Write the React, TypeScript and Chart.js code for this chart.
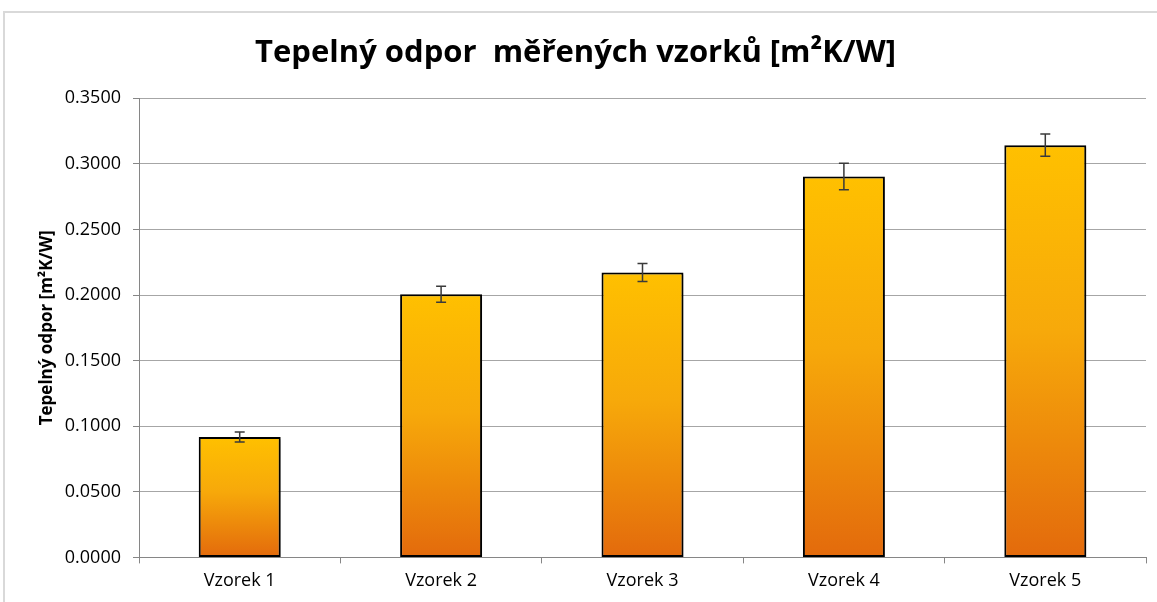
import React, { useEffect, useRef } from "react";
import { Chart, registerables } from "chart.js";

Chart.register(...registerables);

const categories = ["Vzorek 1", "Vzorek 2", "Vzorek 3", "Vzorek 4", "Vzorek 5"];
const values = [0.0917, 0.2005, 0.2172, 0.2903, 0.3142];
const errors = [0.0038, 0.0061, 0.0069, 0.0101, 0.0085];
const titleText = "Tepelný odpor  měřených vzorků [m²K/W]";
const yTitle = "Tepelný odpor [m²K/W]";

const errorBarPlugin = {
  id: "errorBars",
  afterDatasetsDraw(chart: any) {
    const meta = chart.getDatasetMeta(0);
    const y = chart.scales.y;
    const ctx = chart.ctx;
    ctx.save();
    ctx.strokeStyle = "#3a3a3a";
    ctx.lineWidth = 1.5;
    meta.data.forEach((bar: any, i: number) => {
      const v = values[i];
      const e = errors[i];
      const yt = y.getPixelForValue(v + e);
      const yb = y.getPixelForValue(v - e);
      const x = bar.x;
      const cap = 5;
      ctx.beginPath();
      ctx.moveTo(x, yt);
      ctx.lineTo(x, yb);
      ctx.moveTo(x - cap, yt);
      ctx.lineTo(x + cap, yt);
      ctx.moveTo(x - cap, yb);
      ctx.lineTo(x + cap, yb);
      ctx.stroke();
    });
    ctx.restore();
  },
};

const shadowPlugin = {
  id: "barShadow",
  beforeDatasetsDraw(chart: any) {
    const ctx = chart.ctx;
    ctx.save();
    ctx.shadowColor = "rgba(0,0,0,0.35)";
    ctx.shadowBlur = 3;
    ctx.shadowOffsetX = 2;
    ctx.shadowOffsetY = 2;
  },
  afterDatasetsDraw(chart: any) {
    chart.ctx.restore();
  },
};

export default function App() {
  const ref = useRef<HTMLCanvasElement>(null);

  useEffect(() => {
    if (!ref.current) return;
    const chart = new Chart(ref.current, {
      type: "bar",
      data: {
        labels: categories,
        datasets: [
          {
            data: values,
            backgroundColor: (c: any) => {
              const ch = c.chart;
              if (!ch.chartArea || c.type !== "data") return "#FFC000";
              const ys = ch.scales.y;
              const top = ys.getPixelForValue(c.raw);
              const bottom = ys.getPixelForValue(0);
              const g = ch.ctx.createLinearGradient(0, top, 0, bottom);
              g.addColorStop(0, "#FFC000");
              g.addColorStop(0.45, "#F7A90A");
              g.addColorStop(1, "#E36A0C");
              return g;
            },
            borderColor: "#000000",
            borderWidth: 2,
            borderSkipped: false,
            categoryPercentage: 1,
            barPercentage: 0.407,
          },
        ],
      },
      plugins: [shadowPlugin, errorBarPlugin],
      options: {
        animation: false,
        responsive: false,
        layout: { padding: { left: 0, right: 11, top: 0, bottom: 3 } },
        plugins: {
          legend: { display: false },
          tooltip: { enabled: false },
          title: {
            display: true,
            text: titleText,
            color: "#000000",
            font: { family: "'Open Sans'", size: 31, weight: "bold" },
            padding: { top: 22, bottom: 26 },
          },
        },
        scales: {
          x: {
            grid: {
              display: true,
              drawOnChartArea: false,
              drawTicks: true,
              tickLength: 6,
              tickColor: "#868686",
              offset: true,
            },
            border: { display: true, color: "#868686", width: 1 },
            ticks: {
              color: "#000000",
              padding: 7,
              font: { family: "'Open Sans'", size: 18 },
            },
          },
          y: {
            min: 0,
            max: 0.35,
            afterFit: (s: any) => {
              s.width = 134;
            },
            grid: {
              color: "#a6a6a6",
              lineWidth: 1,
              tickLength: 6,
              tickColor: "#868686",
            },
            border: { display: true, color: "#868686", width: 1 },
            ticks: {
              stepSize: 0.05,
              color: "#000000",
              padding: 12,
              font: { family: "'Open Sans'", size: 18 },
              callback: (v: any) => Number(v).toFixed(4),
            },
            title: {
              display: true,
              text: yTitle,
              color: "#000000",
              font: { family: "'Open Sans'", size: 17, weight: "bold" },
              padding: { top: 32, bottom: 0 },
            },
          },
        },
      },
    });
    return () => chart.destroy();
  }, []);

  return (
    <div
      style={{
        position: "absolute",
        left: 3,
        top: 11,
        width: 1154,
        height: 591,
        borderLeft: "2px solid #d9d9d9",
        borderTop: "2px solid #d9d9d9",
        background: "#ffffff",
      }}
    >
      <canvas ref={ref} width={1152} height={589} style={{ display: "block" }} />
    </div>
  );
}
